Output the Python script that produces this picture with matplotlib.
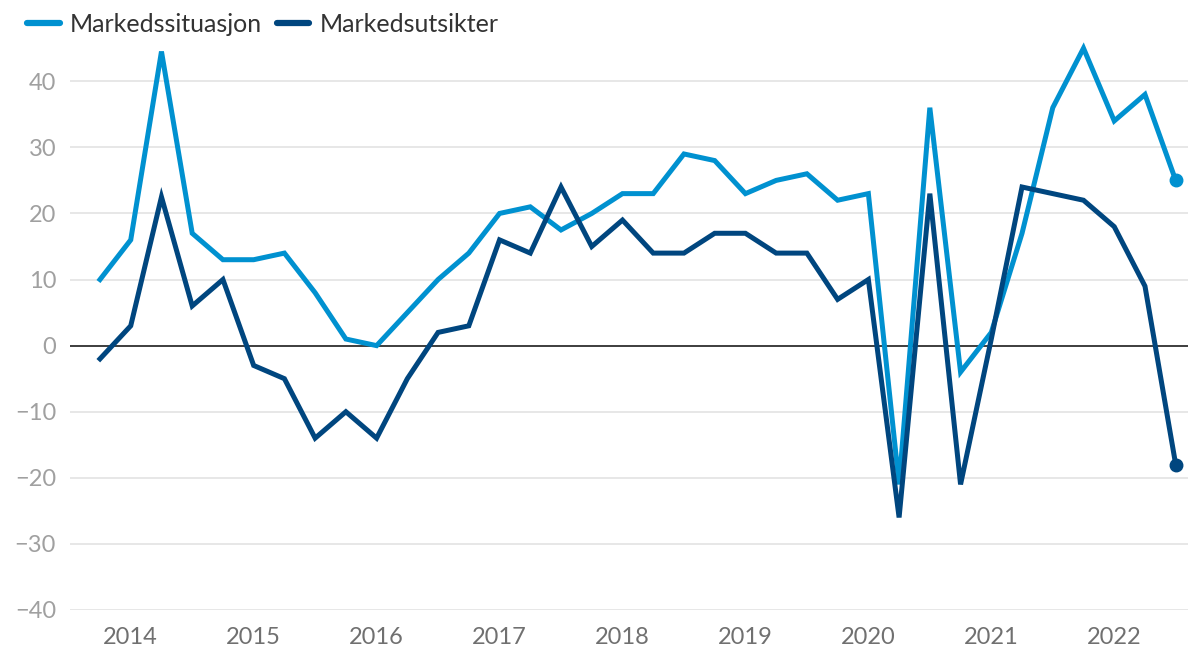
import numpy as np
import matplotlib.pyplot as plt
from matplotlib.lines import Line2D

plt.rcParams['font.family'] = ['Lato', 'DejaVu Sans']

# kvartaler 2013K4 - 2022K3
kvartal = np.arange(36)
markedssituasjon = [10, 16, 44.5, 17, 13, 13, 14, 8, 1, 0,
                    5, 10, 14, 20, 21, 17.5, 20, 23, 23, 29,
                    28, 23, 25, 26, 22, 23, -21, 36, -4, 2,
                    17, 36, 45, 34, 38, 25]
markedsutsikter = [-2, 3, 22.5, 6, 10, -3, -5, -14, -10, -14,
                   -5, 2, 3, 16, 14, 24, 15, 19, 14, 14,
                   17, 17, 14, 14, 7, 10, -26, 23, -21, 1,
                   24, 23, 22, 18, 9, -18]
aar = [str(a) for a in range(2014, 2023)]
aar_pos = [1 + 4 * i for i in range(len(aar))]

lys = '#0091d0'
mork = '#00467f'

fig = plt.figure(figsize=(11.88, 6.5), dpi=100)
ax = fig.add_axes([70 / 1188, 1 - 610 / 650, 1118 / 1188, (610 - 35) / 650])

ax.plot(kvartal, markedssituasjon, color=lys, lw=3.6, solid_joinstyle='miter', zorder=3)
ax.plot(kvartal, markedsutsikter, color=mork, lw=3.6, solid_joinstyle='miter', zorder=4)
ax.plot(kvartal[-1], markedssituasjon[-1], 'o', color=lys, ms=9, zorder=5)
ax.plot(kvartal[-1], markedsutsikter[-1], 'o', color=mork, ms=9, zorder=5)

ax.axhline(0, color='#222222', lw=1.2, zorder=2)
ax.set_xlim(-0.976, 35.4)
ax.set_ylim(-40, 47)
ax.set_yticks(range(-40, 41, 10))
ax.set_yticklabels([str(v).replace('-', '\u2212') for v in range(-40, 41, 10)])
ax.set_xticks(aar_pos)
ax.set_xticklabels(aar)
ax.grid(axis='y', color='#e3e3e3', lw=1.2, zorder=1)
for s in ax.spines.values():
    s.set_visible(False)
ax.tick_params(axis='y', length=0, pad=10, labelsize=17, labelcolor='#a0a0a0')
ax.tick_params(axis='x', length=0, pad=12, labelsize=17, labelcolor='#707070')

handles = [Line2D([0], [0], color=lys, lw=4.5, solid_capstyle='round'),
           Line2D([0], [0], color=mork, lw=4.5, solid_capstyle='round')]
fig.legend(handles, ['Markedssituasjon', 'Markedsutsikter'], loc='upper left',
           bbox_to_anchor=(0.004, 1.015), ncol=2, frameon=False, fontsize=18,
           handlelength=1.3, handletextpad=0.4, columnspacing=0.6,
           labelcolor='#333333')

fig.savefig('out.png', dpi=100)
